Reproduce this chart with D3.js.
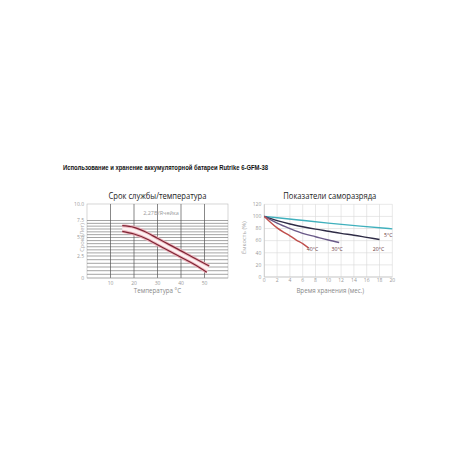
<!DOCTYPE html>
<html><head><meta charset="utf-8">
<script src="https://cdn.jsdelivr.net/npm/d3@7"></script>
<style>body{margin:0;background:#fff}svg{display:block}</style></head>
<body><svg id="c" width="460" height="460"></svg>
<script>
// ---------- data ----------
const mainTitle = "Использование и хранение аккумуляторной батареи Rutrike 6-GFM-38";

const lifeTitle = "Срок службы/температура";
const lifeXLabel = "Температура °C";
const lifeYLabel = "Срок (Лет)";
const lifeNote = "2,27В/Ячейка";
const lifeUpperTemps = [15, 20, 25, 30, 35, 40, 45, 52];
const lifeUpper = [6.74, 6.5, 5.81, 4.89, 4.04, 3.19, 2.36, 1.36];
const lifeLowerTemps = [15, 20, 25, 30, 35, 40, 45, 51];
const lifeLower = [5.91, 5.51, 4.86, 4.01, 3.18, 2.35, 1.64, 0.65];
const lifeXTicks = [10, 20, 30, 40, 50];
const lifeYTicks = [0, 2.5, 5, 7.5, 10];
const lifeYTickLabels = ["0", "2.5", "5.0", "7.5", "10.0"];
const lifeYGrid = [0.42, 0.83, 1.25, 1.67, 2.08, 2.5, 2.92, 3.33, 3.75, 4.17, 4.58, 5, 5.42, 5.83, 6.25, 6.67, 7.08, 7.5];

const selfTitle = "Показатели саморазряда";
const selfXLabel = "Время хранения (мес.)";
const selfYLabel = "Ёмкость (%)";
const selfXTicks = [0, 2, 4, 6, 8, 10, 12, 14, 16, 18, 20];
const selfYTicks = [0, 20, 40, 60, 80, 100, 120];
const seriesNames = ["5°C", "20°C", "30°C", "40°C"];
const months5 = [0, 5, 10, 15, 20];
const values5 = [100, 94.5, 89, 84, 79.5];
const months20 = [0, 2, 4, 6, 8, 10, 12, 14, 16, 18];
const values20 = [100, 93, 87.5, 83, 79, 75.5, 72, 69, 65.5, 62];
const months30 = [0, 2, 4, 6, 8, 10, 11.7];
const values30 = [100, 89, 80, 72, 66.5, 61, 57];
const months40 = [0, 1, 2, 3, 4, 5, 6, 6.9];
const values40 = [100, 90, 81, 74, 68, 61, 55, 48];
const seriesColors = ["#3fb0bd", "#2e2b45", "#6a5a88", "#c0504d"];

// ---------- drawing ----------
const svg = d3.select("#c");
const FONT = "'Open Sans', 'Noto Sans', sans-serif";

svg.append("text").attr("x", 63).attr("y", 169.5)
  .attr("font-family", "'Liberation Sans Narrow', 'Liberation Sans', sans-serif")
  .attr("font-weight", "bold").attr("font-size", 7.2).attr("fill", "#111")
  .attr("textLength", 205).attr("lengthAdjust", "spacingAndGlyphs")
  .text(mainTitle);

// ===== Left chart =====
const lx = d3.scaleLinear().domain([0, 60]).range([87, 228]);
const ly = d3.scaleLinear().domain([0, 2.5, 5, 7.5, 10]).range([278, 256, 237.5, 220.5, 204]);
const L = svg.append("g");

L.append("text").attr("x", (lx.range()[0] + lx.range()[1]) / 2).attr("y", 198.5)
  .attr("text-anchor", "middle").attr("font-family", FONT).attr("font-size", 9.3)
  .attr("fill", "#222").attr("textLength", 98).attr("lengthAdjust", "spacingAndGlyphs").text(lifeTitle);

// frame
L.append("rect").attr("x", lx(0)).attr("y", ly(10)).attr("width", lx(60) - lx(0)).attr("height", ly(0) - ly(10))
  .attr("fill", "none").attr("stroke", "#bbb").attr("stroke-width", 0.6);
// horizontal grid
L.selectAll(".hg").data(lifeYGrid).join("line")
  .attr("x1", lx(0)).attr("x2", lx(60)).attr("y1", d => ly(d)).attr("y2", d => ly(d))
  .attr("stroke", "#666").attr("stroke-width", 0.6);
// vertical grid
L.selectAll(".vg").data(lifeXTicks).join("line")
  .attr("x1", d => lx(d)).attr("x2", d => lx(d)).attr("y1", ly(10)).attr("y2", ly(0))
  .attr("stroke", "#555").attr("stroke-width", 0.7);
// bottom axis line
L.append("line").attr("x1", lx(0)).attr("x2", lx(60)).attr("y1", ly(0)).attr("y2", ly(0))
  .attr("stroke", "#999").attr("stroke-width", 0.6);

// tick labels
L.selectAll(".yt").data(lifeYTicks).join("text")
  .attr("x", lx(0) - 3).attr("y", d => ly(d) + 1.8).attr("text-anchor", "end")
  .attr("font-family", FONT).attr("font-size", 5).attr("fill", "#999")
  .text((d, i) => lifeYTickLabels[i]);
L.selectAll(".xt").data(lifeXTicks).join("text")
  .attr("x", d => lx(d)).attr("y", ly(0) + 6.5).attr("text-anchor", "middle")
  .attr("font-family", FONT).attr("font-size", 5).attr("fill", "#999").text(d => d);
L.append("text").attr("x", (lx.range()[0] + lx.range()[1]) / 2).attr("y", 293)
  .attr("text-anchor", "middle").attr("font-family", FONT).attr("font-size", 6.2).attr("fill", "#888").text(lifeXLabel);
L.append("text").attr("transform", `translate(${lx(0) - 3.5},${ly(5)}) rotate(-90)`)
  .attr("text-anchor", "middle").attr("font-family", FONT).attr("font-size", 5.8).attr("fill", "#aaa").text(lifeYLabel);
L.append("text").attr("x", lx(31.5)).attr("y", ly(8.7) + 2)
  .attr("text-anchor", "middle").attr("font-family", FONT).attr("font-size", 5.5).attr("fill", "#999").text(lifeNote);

// band
const upperPts = lifeUpperTemps.map((t, i) => [lx(t), ly(lifeUpper[i])]);
const lowerPts = lifeLowerTemps.map((t, i) => [lx(t), ly(lifeLower[i])]);
const lineGen = d3.line().curve(d3.curveMonotoneX);
const bandPath = lineGen(upperPts) + "L" + lineGen(lowerPts.slice().reverse()).slice(1) + "Z";
L.append("path").attr("d", bandPath).attr("fill", "#fdf1f2").attr("stroke", "none");
[upperPts, lowerPts].forEach(pts => {
  L.append("path").attr("d", lineGen(pts)).attr("fill", "none").attr("stroke", "#eeb5bd").attr("stroke-width", 3);
  L.append("path").attr("d", lineGen(pts)).attr("fill", "none").attr("stroke", "#7e2535").attr("stroke-width", 1.2);
});

// ===== Right chart =====
const rx = d3.scaleLinear().domain([0, 20]).range([264.3, 392.3]);
const ry = d3.scaleLinear().domain([0, 120]).range([277, 204.3]);
const R = svg.append("g");

R.append("text").attr("x", (rx.range()[0] + rx.range()[1]) / 2 + 1.5).attr("y", 198.5)
  .attr("text-anchor", "middle").attr("font-family", FONT).attr("font-size", 9.3)
  .attr("fill", "#222").attr("textLength", 93).attr("lengthAdjust", "spacingAndGlyphs").text(selfTitle);

R.selectAll(".hg").data(selfYTicks).join("line")
  .attr("x1", rx(0)).attr("x2", rx(20)).attr("y1", d => ry(d)).attr("y2", d => ry(d))
  .attr("stroke", "#d9d9d9").attr("stroke-width", 0.6);
R.selectAll(".vg").data(selfXTicks).join("line")
  .attr("x1", d => rx(d)).attr("x2", d => rx(d)).attr("y1", ry(120)).attr("y2", ry(0))
  .attr("stroke", "#d9d9d9").attr("stroke-width", 0.6);
R.append("line").attr("x1", rx(0)).attr("x2", rx(20)).attr("y1", ry(0)).attr("y2", ry(0))
  .attr("stroke", "#bbb").attr("stroke-width", 0.6);
R.append("line").attr("x1", rx(0)).attr("x2", rx(0)).attr("y1", ry(120)).attr("y2", ry(0))
  .attr("stroke", "#bbb").attr("stroke-width", 0.6);

R.selectAll(".yt").data(selfYTicks).join("text")
  .attr("x", rx(0) - 3).attr("y", d => ry(d) + 1.8).attr("text-anchor", "end")
  .attr("font-family", FONT).attr("font-size", 5).attr("fill", "#999").text(d => d);
R.selectAll(".xt").data(selfXTicks).join("text")
  .attr("x", d => rx(d)).attr("y", ry(0) + 4.5).attr("text-anchor", "middle")
  .attr("font-family", FONT).attr("font-size", 5).attr("fill", "#999").text(d => d);
R.append("text").attr("x", (rx.range()[0] + rx.range()[1]) / 2 + 2).attr("y", 293)
  .attr("text-anchor", "middle").attr("font-family", FONT).attr("font-size", 6.2).attr("fill", "#888").text(selfXLabel);
R.append("text").attr("transform", `translate(${246},${ry(65)}) rotate(-90)`)
  .attr("text-anchor", "middle").attr("font-family", FONT).attr("font-size", 5.8).attr("fill", "#aaa").text(selfYLabel);

const series = [
  [months5, values5], [months20, values20], [months30, values30], [months40, values40]
];
const rLine = d3.line().x(d => rx(d[0])).y(d => ry(d[1])).curve(d3.curveMonotoneX);
series.forEach(([m, v], i) => {
  const pts = m.map((mm, j) => [mm, v[j]]);
  R.append("path").attr("d", rLine(pts)).attr("fill", "none")
    .attr("stroke", seriesColors[i]).attr("stroke-width", 1.4);
});
// labels near line ends
const labelOffsets = [[-4, 8], [-1, 11.5], [-2, 8.5], [4, 3]];
series.forEach(([m, v], i) => {
  const last = m.length - 1;
  R.append("text").attr("x", rx(m[last]) + labelOffsets[i][0]).attr("y", ry(v[last]) + labelOffsets[i][1])
    .attr("text-anchor", "middle").attr("font-family", FONT).attr("font-size", 5.2)
    .attr("fill", "#6b3a40").text(seriesNames[i]);
});
</script></body></html>
